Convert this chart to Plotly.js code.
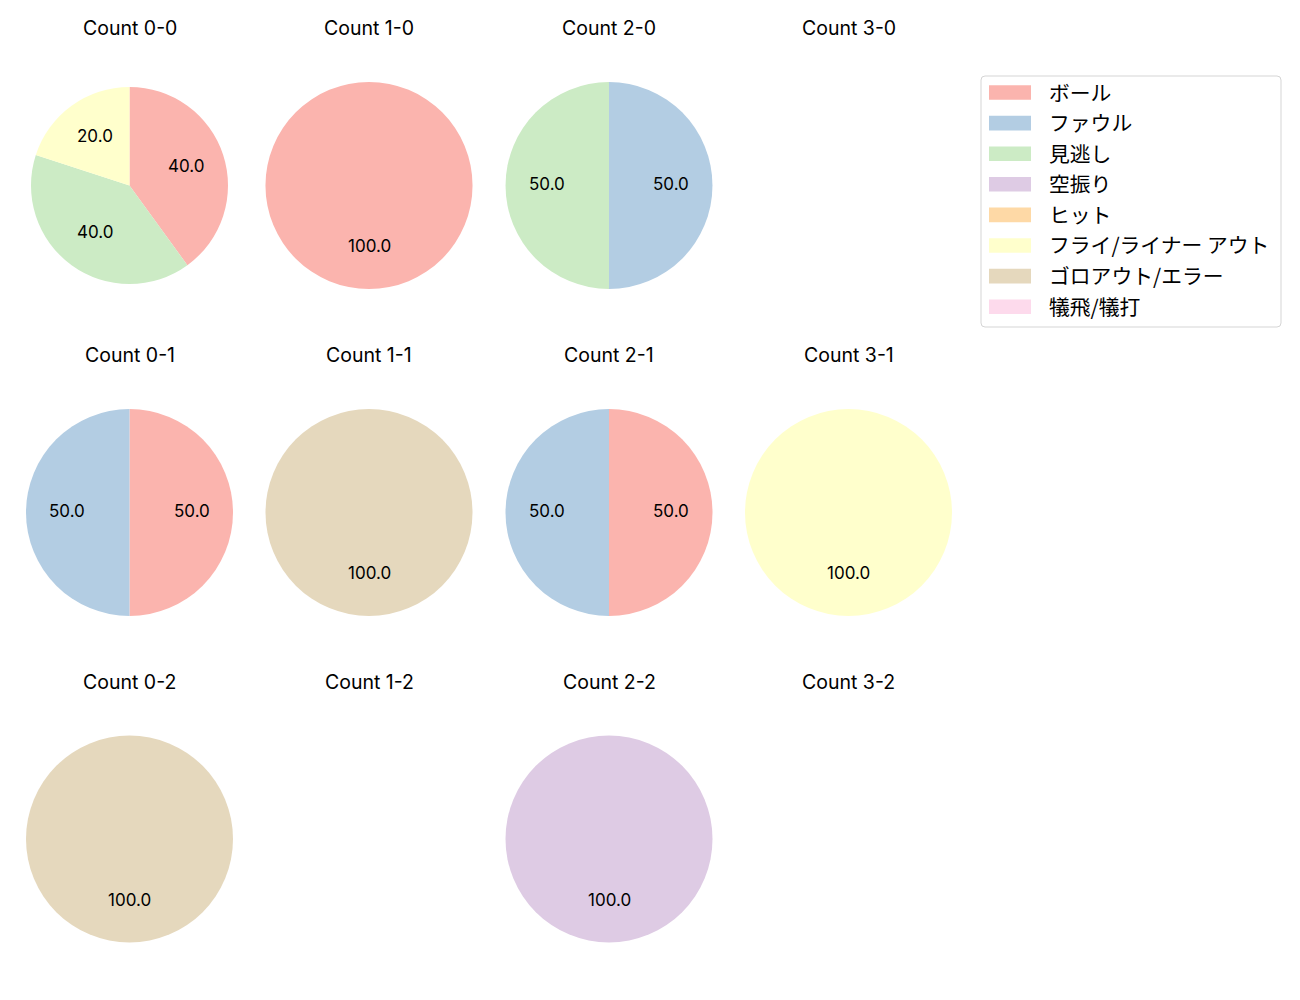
<!DOCTYPE html>
<html>
<head>
<meta charset="utf-8">
<script src="https://cdn.plot.ly/plotly-3.0.1.min.js"></script>
<style>body{margin:0;padding:0;background:#fff;}#chart{width:1300px;height:1000px;}</style>
</head>
<body>
<div id="chart"></div>
<script>
// ---- data ----
const categories = ["ボール", "ファウル", "見逃し", "空振り", "ヒット", "フライ/ライナー アウト", "ゴロアウト/エラー", "犠飛/犠打"];
const colors = ["#fbb4ae", "#b3cde3", "#ccebc5", "#decbe4", "#fed9a6", "#ffffcc", "#e5d8bd", "#fddaec"];
const countTitles = ["Count 0-0", "Count 1-0", "Count 2-0", "Count 3-0",
                     "Count 0-1", "Count 1-1", "Count 2-1", "Count 3-1",
                     "Count 0-2", "Count 1-2", "Count 2-2", "Count 3-2"];
// values per count, in category order
const count00 = [2, 0, 2, 0, 0, 1, 0, 0];
const count10 = [1, 0, 0, 0, 0, 0, 0, 0];
const count20 = [0, 1, 1, 0, 0, 0, 0, 0];
const count30 = [0, 0, 0, 0, 0, 0, 0, 0];
const count01 = [1, 1, 0, 0, 0, 0, 0, 0];
const count11 = [0, 0, 0, 0, 0, 0, 1, 0];
const count21 = [1, 1, 0, 0, 0, 0, 0, 0];
const count31 = [0, 0, 0, 0, 0, 1, 0, 0];
const count02 = [0, 0, 0, 0, 0, 0, 1, 0];
const count12 = [0, 0, 0, 0, 0, 0, 0, 0];
const count22 = [0, 0, 0, 1, 0, 0, 0, 0];
const count32 = [0, 0, 0, 0, 0, 0, 0, 0];
const allCounts = [count00, count10, count20, count30, count01, count11, count21, count31, count02, count12, count22, count32];

// ---- layout geometry (pixels) ----
const W = 1300, H = 1000;
const colX = [129.5, 369, 609, 848.5];
const rowY = [185.5, 512.5, 839];
const titleY = [28.5, 355.5, 681.5];
const FONT = "Inter, 'Noto Sans CJK JP', sans-serif";
const JFONT = "'Noto Sans CJK JP', sans-serif";

const traces = [];
const annotations = [];
const shapes = [];

allCounts.forEach((vals, i) => {
  const col = i % 4, row = Math.floor(i / 4);
  const cx = colX[col], cy = rowY[row];
  const r = (i === 0) ? 98.5 : 103.5;
  annotations.push({
    x: cx / W, y: 1 - titleY[row] / H, xref: 'paper', yref: 'paper',
    text: countTitles[i], showarrow: false, xanchor: 'center', yanchor: 'middle',
    font: {family: FONT, size: 19.5, color: '#000'}
  });
  const total = vals.reduce((a, b) => a + b, 0);
  if (total === 0) return;
  const labs = [], vs = [], cs = [];
  vals.forEach((v, k) => { if (v > 0) { labs.push(categories[k]); vs.push(v); cs.push(colors[k]); } });
  traces.push({
    type: 'pie', labels: labs, values: vs, sort: false, direction: 'clockwise', rotation: 0,
    marker: {colors: cs, line: {width: 0}}, textinfo: 'none', hoverinfo: 'label+percent',
    showlegend: false,
    domain: {x: [(cx - r) / W, (cx + r) / W], y: [1 - (cy + r) / H, 1 - (cy - r) / H]}
  });
  // percentage labels at 0.6 radius, mid-angle of each wedge
  let cum = 0;
  vs.forEach(v => {
    const mid = (90 - 360 * (cum + v / 2) / total) * Math.PI / 180;
    cum += v;
    const tx = cx + 0.6 * r * Math.cos(mid), ty = cy - 0.6 * r * Math.sin(mid) - 1.5;
    annotations.push({
      x: tx / W, y: 1 - ty / H, xref: 'paper', yref: 'paper',
      text: (100 * v / total).toFixed(1), showarrow: false, xanchor: 'center', yanchor: 'middle',
      font: {family: FONT, size: 17, color: '#000'}
    });
  });
});

// ---- custom legend ----
const legX0 = 981, legX1 = 1281, legY0 = 76, legY1 = 327, rr = 4;
const px = v => v / W, py = v => 1 - v / H;
shapes.push({
  type: 'path', xref: 'paper', yref: 'paper',
  path: `M ${px(legX0 + rr)} ${py(legY0)} L ${px(legX1 - rr)} ${py(legY0)} Q ${px(legX1)} ${py(legY0)} ${px(legX1)} ${py(legY0 + rr)} ` +
        `L ${px(legX1)} ${py(legY1 - rr)} Q ${px(legX1)} ${py(legY1)} ${px(legX1 - rr)} ${py(legY1)} ` +
        `L ${px(legX0 + rr)} ${py(legY1)} Q ${px(legX0)} ${py(legY1)} ${px(legX0)} ${py(legY1 - rr)} ` +
        `L ${px(legX0)} ${py(legY0 + rr)} Q ${px(legX0)} ${py(legY0)} ${px(legX0 + rr)} ${py(legY0)} Z`,
  line: {color: '#d5d5d5', width: 1}, fillcolor: 'rgba(255,255,255,0.8)', layer: 'below'
});
categories.forEach((c, k) => {
  const yc = 92.5 + k * 30.6;
  shapes.push({
    type: 'rect', xref: 'paper', yref: 'paper',
    x0: 989 / W, x1: 1031 / W, y0: 1 - (yc + 7.3) / H, y1: 1 - (yc - 7.3) / H,
    line: {width: 0}, fillcolor: colors[k]
  });
  annotations.push({
    x: 1047 / W, y: 1 - (yc - 1) / H, xref: 'paper', yref: 'paper', text: c, showarrow: false,
    xanchor: 'left', yanchor: 'middle', font: {family: JFONT, size: 20.8, color: '#000'}
  });
});

const layout = {
  width: W, height: H, margin: {l: 0, r: 0, t: 0, b: 0},
  paper_bgcolor: '#fff', plot_bgcolor: '#fff', showlegend: false,
  annotations: annotations, shapes: shapes, font: {family: FONT}
};
Plotly.newPlot('chart', traces, layout, {displayModeBar: false, staticPlot: true});
</script>
</body>
</html>
